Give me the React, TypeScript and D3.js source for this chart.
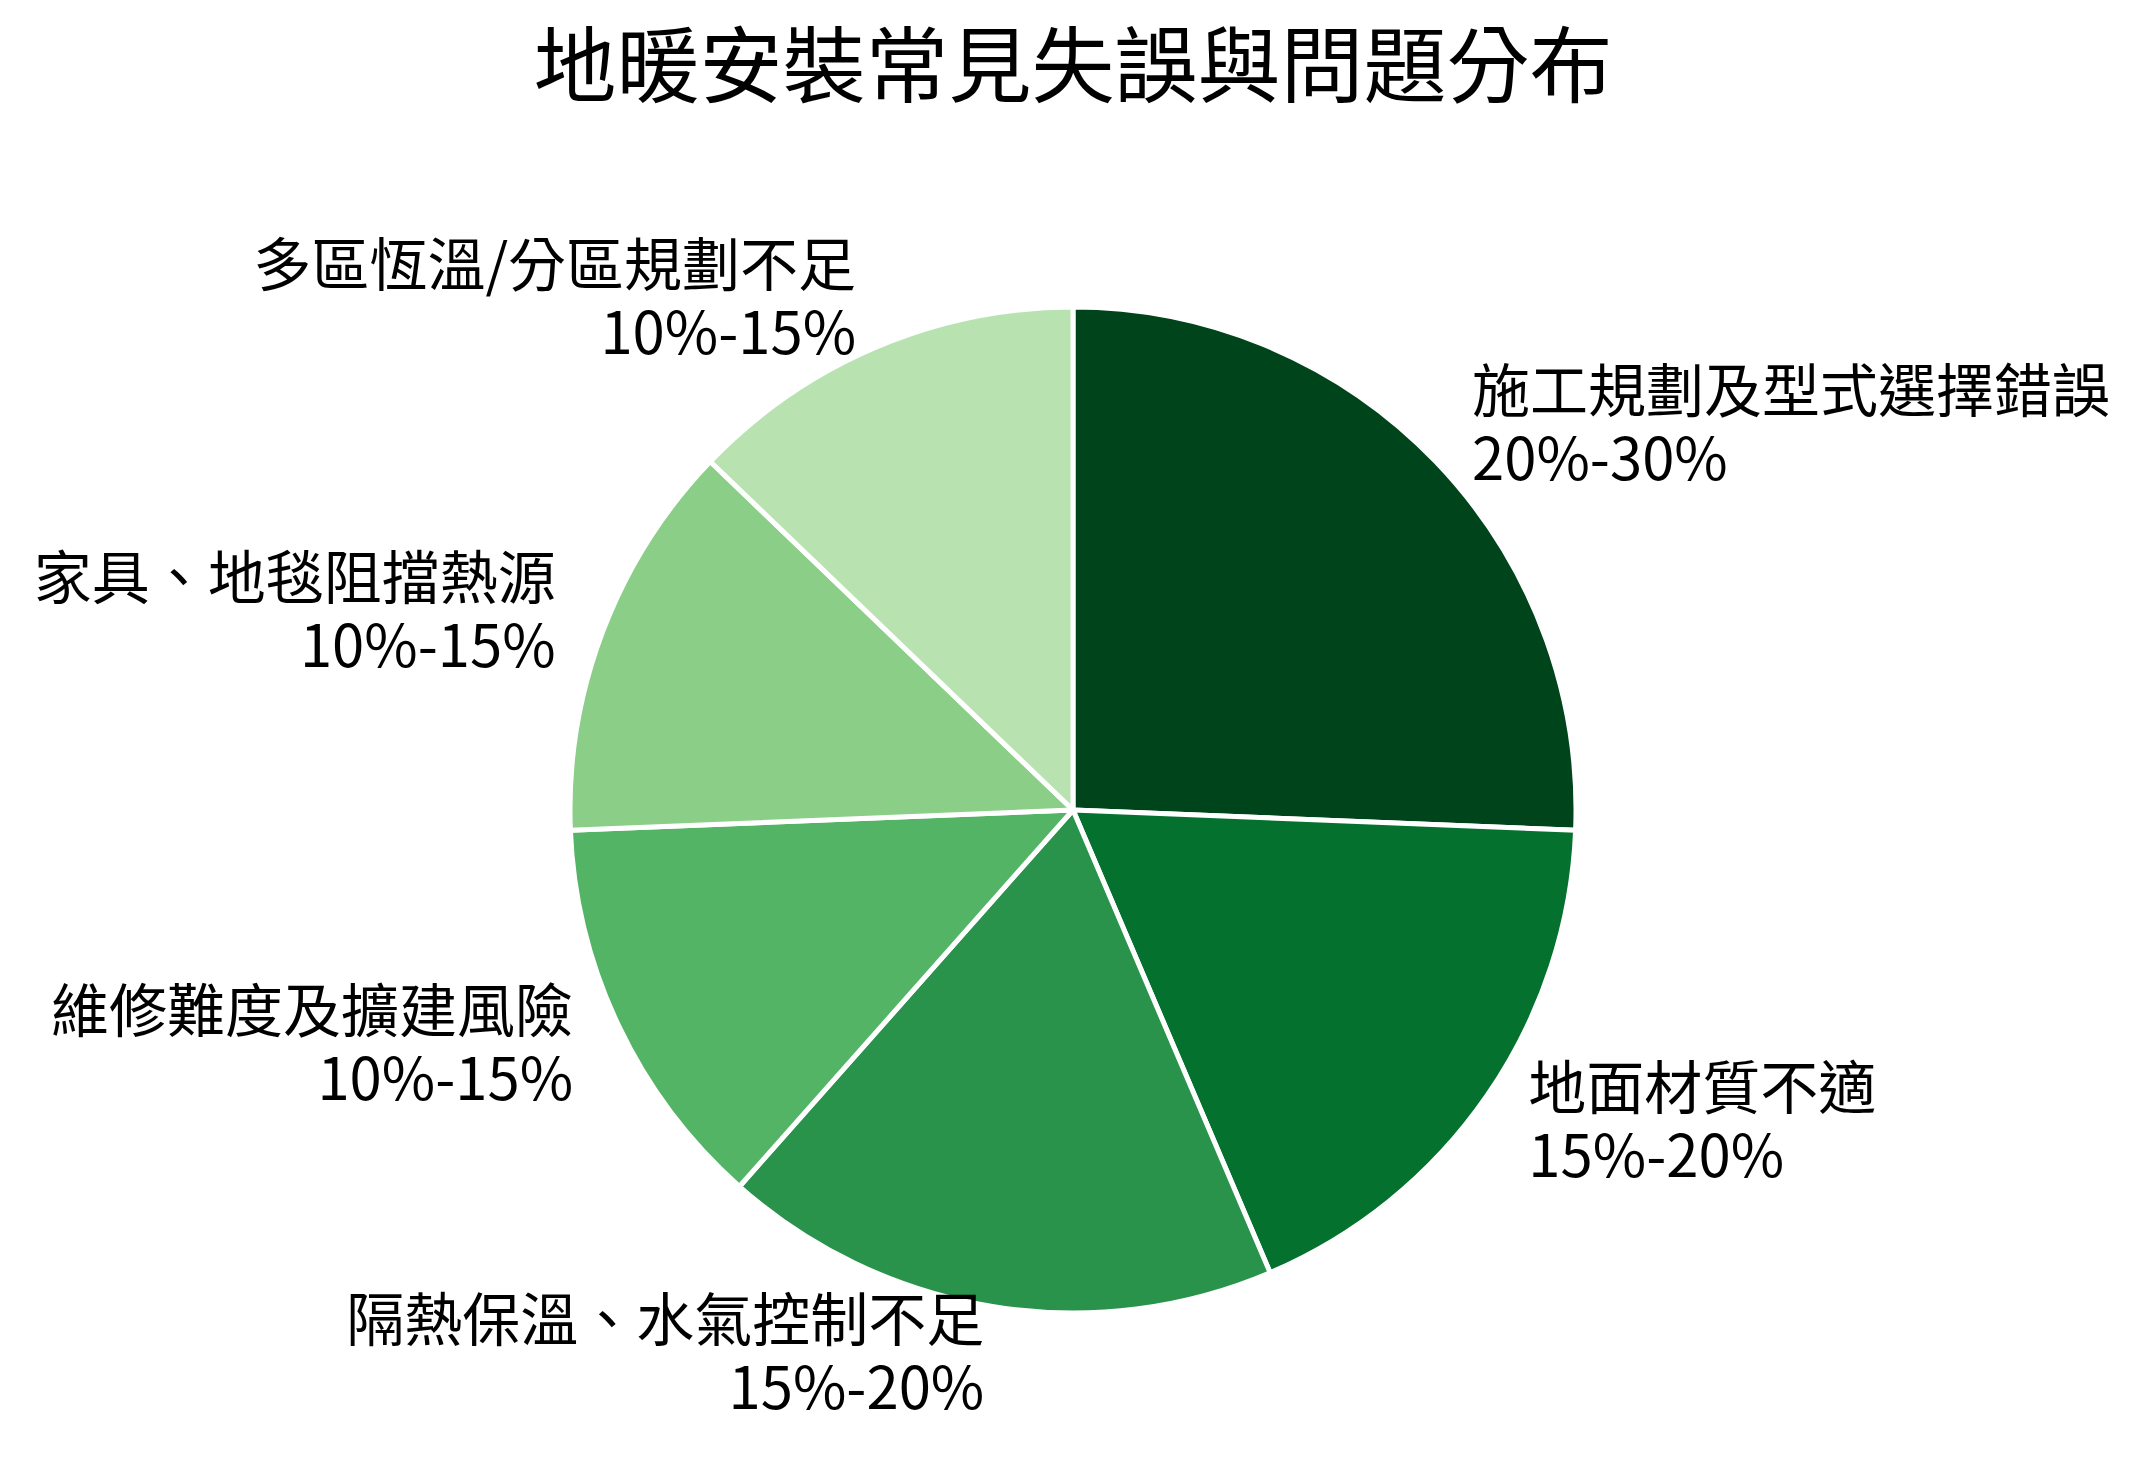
import React, { useEffect, useRef } from 'react';
import * as d3 from 'd3';

// Pie data: share of each installation issue (midpoint of the range shown)
const categories = [
  '施工規劃及型式選擇錯誤',
  '地面材質不適',
  '隔熱保溫、水氣控制不足',
  '維修難度及擴建風險',
  '家具、地毯阻擋熱源',
  '多區恆溫/分區規劃不足',
];
const rangeLabels = ['20%-30%', '15%-20%', '15%-20%', '10%-15%', '10%-15%', '10%-15%'];
const values = [25, 17.5, 17.5, 12.5, 12.5, 12.5];
const colors = ['#00441b', '#04712f', '#2a934b', '#53b466', '#8ace88', '#b8e3b1'];

const title = '地暖安裝常見失誤與問題分布';

const App: React.FC = () => {
  const svgRef = useRef<SVGSVGElement>(null);
  const width = 2144;
  const height = 1468;

  useEffect(() => {
    if (!svgRef.current) return;
    const svg = d3.select(svgRef.current);
    svg.selectAll('*').remove();

    const font = '"Noto Sans CJK TC", "Noto Sans CJK SC", sans-serif';
    const cx = 1073;
    const cy = 810;
    const radius = 503;

    svg.append('rect')
      .attr('width', width)
      .attr('height', height)
      .attr('fill', '#ffffff');

    svg.append('text')
      .attr('x', cx)
      .attr('y', 60)
      .attr('text-anchor', 'middle')
      .attr('dominant-baseline', 'central')
      .style('font-family', font)
      .style('font-size', '83px')
      .attr('fill', '#000')
      .text(title);

    const items = categories.map((c, i) => ({ name: c, range: rangeLabels[i], value: values[i], color: colors[i] }));

    const pie = d3.pie<typeof items[number]>()
      .sort(null)
      .value(d => d.value)
      .startAngle(0)
      .endAngle(2 * Math.PI);

    const arc = d3.arc<d3.PieArcDatum<typeof items[number]>>()
      .innerRadius(0)
      .outerRadius(radius);

    const g = svg.append('g').attr('transform', `translate(${cx},${cy})`);
    const arcs = pie(items);

    g.selectAll('path.slice')
      .data(arcs)
      .enter()
      .append('path')
      .attr('class', 'slice')
      .attr('d', arc)
      .attr('fill', d => d.data.color)
      .attr('stroke', '#ffffff')
      .attr('stroke-width', 5)
      .attr('stroke-linejoin', 'round');

    // Labels outside the pie at 1.1 × radius, two lines centred on that point
    const labelR = radius * 1.1;
    const labels = g.selectAll('text.label')
      .data(arcs)
      .enter()
      .append('text')
      .attr('class', 'label')
      .style('font-family', font)
      .style('font-size', '58px')
      .attr('fill', '#000')
      .attr('text-anchor', d => (Math.sin((d.startAngle + d.endAngle) / 2) > 0 ? 'start' : 'end'));

    labels.each(function (d) {
      const mid = (d.startAngle + d.endAngle) / 2;
      const x = Math.sin(mid) * labelR;
      const y = -Math.cos(mid) * labelR - 6;
      const t = d3.select(this);
      t.append('tspan')
        .attr('x', x)
        .attr('y', y - 34)
        .attr('dominant-baseline', 'central')
        .text(d.data.name);
      t.append('tspan')
        .attr('x', x)
        .attr('y', y + 34)
        .attr('dominant-baseline', 'central')
        .text(d.data.range);
    });
  }, []);

  return (
    <svg
      ref={svgRef}
      width={width}
      height={height}
      style={{ position: 'absolute', left: 0, top: 0, display: 'block' }}
    />
  );
};

export default App;
